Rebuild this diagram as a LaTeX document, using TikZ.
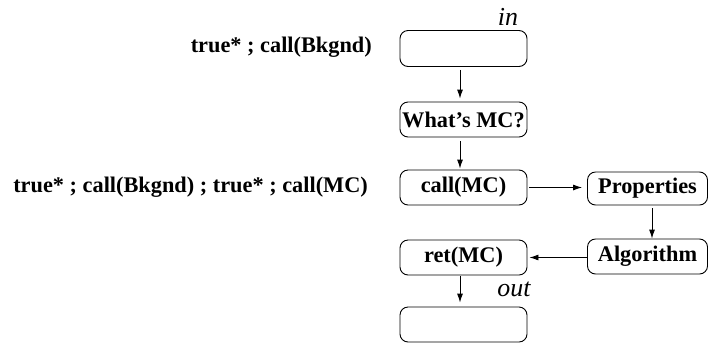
\documentclass[tikz,border=0pt]{standalone}
\usepackage{fontspec}
\setmainfont{Liberation Serif}
\usetikzlibrary{arrows.meta}
\begin{document}
\begin{tikzpicture}[x=1bp,y=-1bp,
  box/.style={draw, line width=0.9bp, rounded corners=8bp, inner sep=0pt,
    font=\fontsize{22.4}{25}\selectfont\bfseries},
  lbl/.style={inner sep=0pt, font=\fontsize{22.4}{25}\selectfont\bfseries},
  ital/.style={inner sep=0pt, font=\fontsize{26}{28}\selectfont\itshape},
  arr/.style={-{Latex[length=9bp,width=6bp]}, line width=0.9bp}]
\useasboundingbox (0,0) rectangle (708,343);
\node[box, minimum width=127bp, minimum height=36bp] (inbox) at (463.5,48.5) {};
\node[box, minimum width=127bp, minimum height=35bp] (what) at (463.5,119.5) {What's MC?};
\node[box, minimum width=127bp, minimum height=35bp] (call) at (463.5,187.5) {call(MC)};
\node[box, minimum width=120bp, minimum height=33bp] (props) at (647.5,188.5) {Properties};
\node[box, minimum width=120bp, minimum height=35bp] (alg) at (647.5,256.5) {Algorithm};
\node[box, minimum width=127bp, minimum height=35bp] (ret) at (463.5,257.5) {ret(MC)};
\node[box, minimum width=127bp, minimum height=35bp] (outbox) at (463.5,324.5) {};
\node[ital] (inl) at (508,17) {in};
\node[ital] (outl) at (514,289) {out};
\node[lbl, anchor=east] (l1) at (372,47) {true* ; call(Bkgnd)};
\node[lbl, anchor=east] (l2) at (368,187) {true* ; call(Bkgnd) ; true* ; call(MC)};
\draw[arr, shorten <=3bp, shorten >=3bp] ([xshift=-3.5bp]inbox.south) -- ([xshift=-3.5bp]what.north);
\draw[arr, shorten <=4bp, shorten >=1bp] ([xshift=-3.5bp]what.south) -- ([xshift=-3.5bp]call.north);
\draw[arr, shorten <=2bp, shorten >=5bp] (call.east) -- (call.east -| props.west);
\draw[arr, shorten <=3bp, shorten >=0bp] ([xshift=4.5bp]props.south) -- ([xshift=4.5bp]props.south |- alg.north);
\draw[arr, shorten >=2bp] (ret.east -| alg.west) -- (ret.east);
\draw[arr, shorten <=1bp, shorten >=4bp] ([xshift=-3.5bp]ret.south) -- ([xshift=-3.5bp]outbox.north);
\end{tikzpicture}
\end{document}
